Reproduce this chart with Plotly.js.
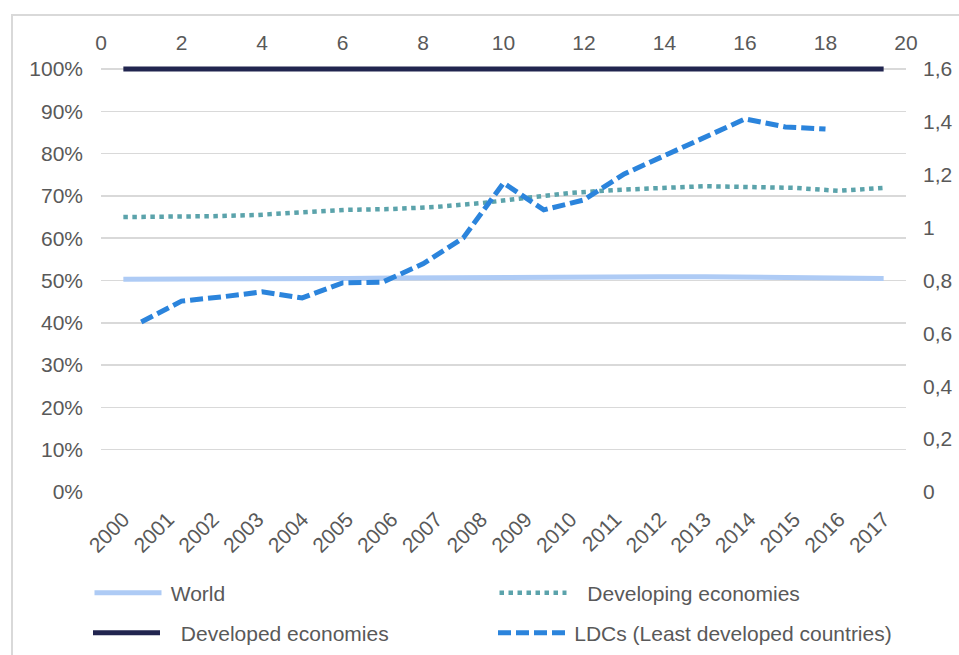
<!DOCTYPE html>
<html>
<head>
<meta charset="utf-8">
<script src="https://cdn.plot.ly/plotly-3.0.1.min.js"></script>
<style>
  html, body { margin: 0; padding: 0; background: #fff; }
  #wrap { position: relative; width: 959px; height: 655px; overflow: hidden; }
  #chart { width: 959px; height: 655px; }
  #frame { position: absolute; left: 11px; top: 14px; width: 1000px; height: 700px;
           border: 2px solid #d9d9d9; box-sizing: border-box; pointer-events: none; }
</style>
</head>
<body>
<div id="wrap">
  <div id="chart"></div>
  <div id="frame"></div>
</div>
<script>
// ---- data ----
const years = ['2000','2001','2002','2003','2004','2005','2006','2007','2008',
               '2009','2010','2011','2012','2013','2014','2015','2016','2017'];
const world = [0.503,0.503,0.504,0.504,0.505,0.505,0.506,0.507,0.508,
               0.508,0.508,0.509,0.509,0.509,0.508,0.506,0.505,0.505];
const developing = [0.650,0.650,0.652,0.655,0.662,0.667,0.669,0.674,0.683,
                    0.695,0.707,0.714,0.719,0.723,0.721,0.719,0.712,0.719];
const developed = [1,1,1,1,1,1,1,1,1,1,1,1,1,1,1,1,1,1];
const ldcX = [1,2,3,4,5,6,7,8,9,10,11,12,13,14,15,16,17,18];
const ldc = [0.643,0.722,0.738,0.757,0.734,0.791,0.794,0.863,0.961,
             1.169,1.067,1.105,1.203,1.271,1.343,1.411,1.381,1.373];
const names = ['World', 'Developing economies', 'Developed economies', 'LDCs (Least developed countries)'];

const txt = '#595959';
const fnt = {family: 'Liberation Sans, Arial, sans-serif', size: 21, color: txt};

// small head-room so the 100% line is not clipped by the plot edge
const plotTopPx = 66, plotBottomPx = 492, gridTopPx = 69, plotLeftPx = 101, plotRightPx = 906;
const yTop = (plotBottomPx - plotTopPx) / (plotBottomPx - gridTopPx);
const plotH = plotBottomPx - plotTopPx, plotW = plotRightPx - plotLeftPx;

const thin = '\u2009', nb = '\u00a0';
const traces = [
  {x: years, y: world, name: thin + names[0], type: 'scatter', mode: 'lines',
   line: {color: '#aecbf5', width: 5}, xaxis: 'x', yaxis: 'y', legend: 'legend'},
  {x: years, y: developing, name: nb + nb + thin + names[1], type: 'scatter', mode: 'lines',
   line: {color: '#5ba3ab', width: 4.5, dash: 'dot'}, xaxis: 'x', yaxis: 'y', legend: 'legend'},
  {x: years, y: developed, name: nb + nb + thin + names[2], type: 'scatter', mode: 'lines',
   line: {color: '#21254f', width: 5}, xaxis: 'x', yaxis: 'y', legend: 'legend2'},
  {x: ldcX, y: ldc, name: thin + names[3], type: 'scatter', mode: 'lines',
   line: {color: '#2b84dc', width: 5, dash: '13px,5px'}, xaxis: 'x2', yaxis: 'y2', legend: 'legend2'}
];

const legendBase = {
  orientation: 'h', xanchor: 'left', yanchor: 'middle',
  font: {family: fnt.family, size: 21, color: txt},
  itemwidth: 67, entrywidth: 323, entrywidthmode: 'pixels',
  bgcolor: 'rgba(0,0,0,0)', traceorder: 'normal'
};

const layout = {
  width: 959, height: 655,
  margin: {l: plotLeftPx, r: 959 - plotRightPx, t: plotTopPx, b: 655 - plotBottomPx, autoexpand: false},
  paper_bgcolor: '#fff', plot_bgcolor: '#fff',
  separators: ', ',
  font: fnt,
  showlegend: true,
  legend: Object.assign({}, legendBase, {x: (89.5 - plotLeftPx) / plotW, y: (plotBottomPx - 593) / plotH}),
  legend2: Object.assign({}, legendBase, {x: (88 - plotLeftPx) / plotW, y: (plotBottomPx - 633) / plotH}),
  xaxis: {type: 'category', categoryorder: 'array', categoryarray: years,
          range: [-0.5, 17.5], tickangle: -45, showgrid: false, showline: false,
          zeroline: false, ticks: '', ticklabelstandoff: 10, tickfont: fnt},
  yaxis: {range: [0, yTop], dtick: 0.1, tick0: 0, tickformat: '.0%', showgrid: true,
          gridcolor: '#d9d9d9', gridwidth: 1.5, zeroline: false, showline: false,
          ticks: '', ticklabelstandoff: 17, tickfont: fnt},
  xaxis2: {overlaying: 'x', side: 'top', range: [0, 20], dtick: 2, tick0: 0,
           showgrid: false, zeroline: false, showline: false, ticks: '',
           ticklabelstandoff: 11, tickfont: fnt, anchor: 'y'},
  yaxis2: {overlaying: 'y', side: 'right', range: [0, 1.6 * yTop], dtick: 0.2, tick0: 0,
           showgrid: false, zeroline: false, showline: false, ticks: '',
           ticklabelstandoff: 16, tickfont: fnt, anchor: 'x'}
};

Plotly.newPlot('chart', traces, layout, {displayModeBar: false, staticPlot: true});
</script>
</body>
</html>
